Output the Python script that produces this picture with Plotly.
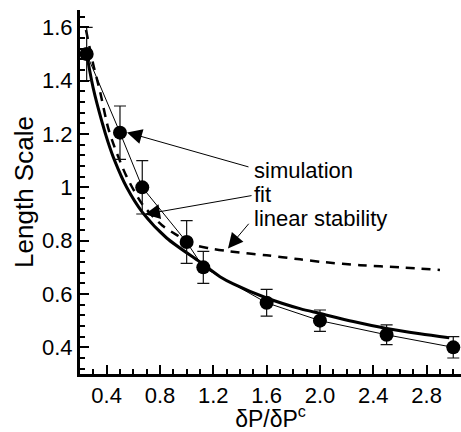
import numpy as np
import plotly.graph_objects as go

# simulation data (points with error bars)
sim_x = [0.25, 0.5, 0.667, 1.0, 1.125, 1.6, 2.0, 2.5, 3.0]
sim_y = [1.50, 1.205, 1.0, 0.795, 0.70, 0.567, 0.50, 0.447, 0.40]
sim_err = [0.1, 0.1, 0.1, 0.08, 0.06, 0.05, 0.04, 0.037, 0.04]

# fit curve
fit_x = [0.25, 0.3, 0.365, 0.41, 0.46, 0.55, 0.67, 0.85, 1.1, 1.25, 1.35, 1.6, 1.85, 2.0, 2.25, 2.5, 2.75, 2.97]
fit_y = [1.50, 1.37, 1.245, 1.17, 1.10, 1.00, 0.905, 0.81, 0.72, 0.665, 0.638, 0.585, 0.545, 0.527, 0.497, 0.471, 0.451, 0.436]

# linear stability curve
lin_x = [0.245, 0.3, 0.35, 0.41, 0.46, 0.55, 0.67, 0.815, 0.93, 1.05, 1.175, 1.325, 1.6, 1.85, 2.02, 2.3, 2.6, 2.9]
lin_y = [1.59, 1.46, 1.36, 1.225, 1.15, 1.04, 0.935, 0.858, 0.82, 0.785, 0.771, 0.76, 0.745, 0.73, 0.72, 0.708, 0.70, 0.69]

x_tickvals = [0.4, 0.8, 1.2, 1.6, 2.0, 2.4, 2.8]
x_ticktext = ["0.4", "0.8", "1.2", "1.6", "2.0", "2.4", "2.8"]
y_tickvals = [0.4, 0.6, 0.8, 1.0, 1.2, 1.4, 1.6]
y_ticktext = ["0.4", "0.6", "0.8", "1", "1.2", "1.4", "1.6"]

FONT = "Liberation Sans, Arial, Helvetica, sans-serif"

fig = go.Figure()
fig.add_trace(go.Scatter(x=lin_x, y=lin_y, mode="lines",
                         line=dict(color="black", width=2.5, dash="9px,7px", shape="spline", smoothing=0.8),
                         hoverinfo="skip", showlegend=False))
fig.add_trace(go.Scatter(x=fit_x, y=fit_y, mode="lines",
                         line=dict(color="black", width=3, shape="spline", smoothing=0.8),
                         hoverinfo="skip", showlegend=False))
fig.add_trace(go.Scatter(x=sim_x, y=sim_y, mode="lines+markers",
                         line=dict(color="black", width=1),
                         marker=dict(color="black", size=14),
                         error_y=dict(type="data", array=sim_err, color="#111111", thickness=1.2, width=6),
                         showlegend=False))

x0, x1 = 0.2, 3.058
y0, y1 = 0.3, 1.665

ann_font = dict(family=FONT, size=22, color="black")
arrow_style = dict(text="", showarrow=True, arrowhead=2, arrowsize=3, arrowwidth=1,
                   arrowcolor="black", xref="x", yref="y", axref="x", ayref="y")
annotations = [
    dict(x=0.5525, y=1.206, ax=1.475, ay=1.075, **arrow_style),
    dict(x=0.6875, y=0.899, ax=1.498, ay=0.97, **arrow_style),
    dict(x=1.31, y=0.771, ax=1.475, ay=0.869, **arrow_style),
    dict(x=1.49, y=1.064, xref="x", yref="y", text="simulation", showarrow=False,
         xanchor="left", yanchor="middle", font=ann_font),
    dict(x=1.49, y=0.972, xref="x", yref="y", text="fit", showarrow=False,
         xanchor="left", yanchor="middle", font=ann_font),
    dict(x=1.49, y=0.882, xref="x", yref="y", text="linear stability", showarrow=False,
         xanchor="left", yanchor="middle", font=ann_font),
]

fig.update_layout(
    width=461, height=432,
    margin=dict(l=80, r=0, t=10, b=58),
    paper_bgcolor="white", plot_bgcolor="white",
    font=dict(family=FONT, size=22, color="black"),
    annotations=annotations,
    xaxis=dict(range=[x0, x1], showgrid=False, zeroline=False,
               showline=True, linecolor="black", linewidth=3,
               ticks="inside", ticklen=9, tickwidth=2, tickcolor="black",
               tickmode="array", tickvals=x_tickvals, ticktext=x_ticktext,
               tickfont=dict(family=FONT, size=22),
               minor=dict(tickvals=list(np.round(np.arange(0.2, 3.06, 0.1), 3)),
                          ticks="inside", ticklen=5, tickwidth=1.5, tickcolor="black"),
               title=dict(text="δP/δP<sup>c</sup>", font=dict(family=FONT, size=23), standoff=2)),
    yaxis=dict(range=[y0, y1], showgrid=False, zeroline=False,
               showline=True, linecolor="black", linewidth=3,
               ticks="inside", ticklen=9, tickwidth=2, tickcolor="black",
               tickmode="array", tickvals=y_tickvals, ticktext=y_ticktext,
               tickfont=dict(family=FONT, size=22),
               minor=dict(tickvals=list(np.round(np.arange(0.32, 1.66, 0.04), 3)),
                          ticks="inside", ticklen=5, tickwidth=1.5, tickcolor="black"),
               title=dict(text="Length Scale", font=dict(family=FONT, size=26), standoff=1)),
)

fig.write_html("out.html")
